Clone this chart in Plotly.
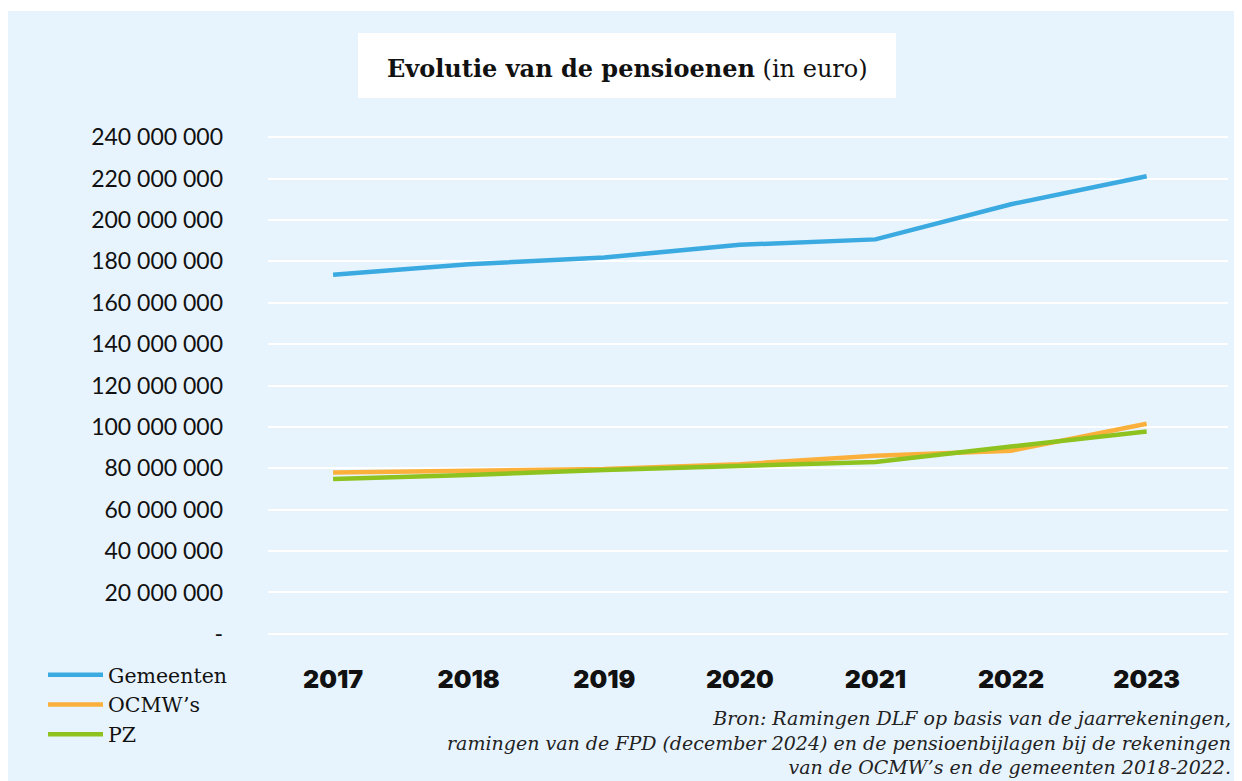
import plotly.graph_objects as go

years = ["2017", "2018", "2019", "2020", "2021", "2022", "2023"]
gemeenten = [173.5e6, 178.6e6, 181.8e6, 188.0e6, 190.6e6, 207.6e6, 221.1e6]
ocmw = [78.0e6, 78.6e6, 79.6e6, 82.0e6, 86.0e6, 88.5e6, 101.5e6]
pz = [74.8e6, 76.7e6, 79.2e6, 81.3e6, 83.0e6, 90.5e6, 97.8e6]

series_names = ["Gemeenten", "OCMW\u2019s", "PZ"]
series_colors = ["#3AAAE1", "#FBB03B", "#8DC21F"]

y_tickvals = [0, 20e6, 40e6, 60e6, 80e6, 100e6, 120e6, 140e6, 160e6, 180e6, 200e6, 220e6, 240e6]
y_ticktext = ["-", "20 000 000", "40 000 000", "60 000 000", "80 000 000", "100 000 000",
              "120 000 000", "140 000 000", "160 000 000", "180 000 000", "200 000 000",
              "220 000 000", "240 000 000"]

title_bold = "Evolutie van de pensioenen"
title_rest = " (in euro)"
source_lines = [
    "Bron: Ramingen DLF op basis van de jaarrekeningen,",
    "ramingen van de FPD (december 2024) en de pensioenbijlagen bij de rekeningen",
    "van de OCMW\u2019s en de gemeenten 2018-2022.",
]

BG = "#E8F4FD"

fig = go.Figure()
for name, vals, col in zip(series_names, [gemeenten, ocmw, pz], series_colors):
    fig.add_trace(go.Scatter(
        x=years, y=vals, mode="lines", name=name, legendgroup=name,
        line=dict(color=col, width=4.5),
    ))

W, H = 1234, 773
ml, mr, mt, mb = 260, 14, 125, 143
pw = W - ml - mr
ph = H - mt - mb


def px(x):
    return (x - ml) / pw


def py(y):
    return (H - mb - y) / ph


fig.update_layout(
    width=W, height=H,
    margin=dict(l=ml, r=mr, t=mt, b=mb),
    paper_bgcolor="white",
    plot_bgcolor=BG,
    showlegend=True,
    legend=dict(
        x=px(35), xanchor="left", y=py(647), yanchor="top",
        bgcolor="rgba(0,0,0,0)",
        font=dict(family="DejaVu Serif", size=20.5, color="#111"),
        tracegroupgap=0, itemwidth=55,
    ),
    xaxis=dict(
        type="category", range=[-0.48, 6.6],
        showgrid=False, zeroline=False, showline=False,
        tickfont=dict(family="Inter", size=25, color="#111", weight=900),
        ticks="", ticklabelstandoff=24,
    ),
    yaxis=dict(
        range=[-2e6, 242e6],
        tickvals=y_tickvals, ticktext=y_ticktext,
        showgrid=True, gridcolor="white", gridwidth=2,
        zeroline=False, showline=False,
        tickfont=dict(family="Lato", size=23, color="#111"),
        ticks="", ticklabelstandoff=44,
    ),
)

shapes = [
    dict(type="rect", xref="paper", yref="paper", layer="below",
         x0=px(-1), x1=px(W + 10), y0=py(H + 10), y1=py(3),
         fillcolor=BG, line=dict(width=0)),
    dict(type="rect", xref="paper", yref="paper", layer="below",
         x0=px(350), x1=px(888), y0=py(90), y1=py(25),
         fillcolor="white", line=dict(width=0)),
]
fig.update_layout(shapes=shapes)

fig.add_annotation(
    xref="paper", yref="paper",
    x=px(619), y=py(60), xanchor="center", yanchor="middle",
    text=f"<b>{title_bold}</b>{title_rest}", showarrow=False,
    font=dict(family="DejaVu Serif", size=24, color="#111"),
)
fig.add_annotation(
    xref="paper", yref="paper",
    x=px(1225), y=py(697), xanchor="right", yanchor="top",
    text="<br>".join(source_lines), align="right", showarrow=False,
    font=dict(family="DejaVu Serif", size=19, color="#222", style="italic"),
)

fig.write_html("out.html")
